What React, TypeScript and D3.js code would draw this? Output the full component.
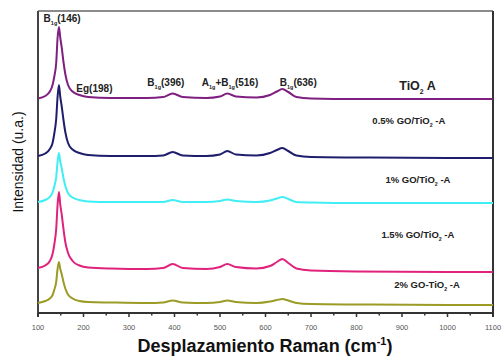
import React, { useRef, useEffect } from 'react';
import * as d3 from 'd3';

// Raman shift (cm-1) sample points shared by all spectra
const shifts = [100, 116, 126, 132, 136, 140, 143, 146, 149, 152, 156, 160, 166, 176, 191, 210, 260, 340, 375, 396, 418, 470, 500, 516, 535, 580, 610, 625, 637, 650, 668, 700, 800, 1000, 1100];

// Intensities (a.u., stacked with offsets as plotted)
const tio2A = [214.5, 217, 221.5, 228, 237, 250, 275, 286, 275, 266, 251, 239, 228, 221.5, 218, 216, 215, 215, 216, 219.5, 216, 215, 216.5, 219.5, 216.5, 215.5, 218, 221.5, 224, 221, 216, 214.5, 214, 214, 214];
const go05 = [157, 159.5, 164, 170, 180, 194, 216, 228, 216, 207, 193, 181, 170, 163.5, 160, 158, 157, 157, 157.5, 161, 157.5, 157, 158.5, 162, 158.5, 157.5, 160, 163, 165, 162, 157.5, 156, 155.5, 155, 155];
const go1 = [111, 113, 116, 120.5, 127, 136, 151, 160, 151, 145, 135, 127, 120, 115.5, 113, 111.5, 111, 111, 111, 113, 111, 111, 112, 113.5, 112, 111, 112.5, 114.5, 116, 114, 111, 110.5, 110, 110, 110];
const go15 = [45, 47.5, 52, 59, 69, 84, 108, 121, 108, 99, 84, 71, 60, 52, 47.5, 45.5, 44.5, 44, 45, 49, 45, 44, 46, 49, 46, 44.5, 47, 51, 54, 50, 44.5, 42.5, 41.5, 41, 41];
const go2 = [10, 12, 14.5, 18, 23.5, 31, 44, 51, 44, 39, 31, 24.5, 18.5, 14.5, 12, 11, 10.5, 10, 10.5, 12.5, 10.5, 10, 11, 12.5, 11, 10, 11.5, 13, 14, 12.5, 10, 9, 8.5, 8, 8];

const seriesNames = ['TiO2 A', '0.5% GO/TiO2 -A', '1% GO/TiO2 -A', '1.5% GO/TiO2 -A', '2% GO-TiO2 -A'];
const seriesValues = [tio2A, go05, go1, go15, go2];
const seriesColors = ['#7f1f80', '#1e1e6c', '#40eef4', '#e0227c', '#9b9b25'];

const xTicks = [100, 200, 300, 400, 500, 600, 700, 800, 900, 1000, 1100];
const xMinorTicks = [150, 250, 350, 450, 550, 650, 750, 850, 950, 1050];

const App = () => {
    const ref = useRef(null);

    useEffect(() => {
        const width = 502;
        const height = 358;
        const margin = { top: 11, right: 9, bottom: 45, left: 38 };
        const font = "'Liberation Sans', Arial, sans-serif";

        const root = d3.select(ref.current);
        root.selectAll('*').remove();
        root.attr('width', width).attr('height', height);

        const x = d3.scaleLinear().domain([100, 1100]).range([margin.left, width - margin.right]);
        const y = d3.scaleLinear().domain([0, 302]).range([height - margin.bottom, margin.top]);

        // frame
        root.append('line')
            .attr('x1', x(100)).attr('x2', x(1100))
            .attr('y1', y(302)).attr('y2', y(302))
            .attr('stroke', '#666').attr('stroke-width', 1.5);
        root.append('line')
            .attr('x1', x(1100)).attr('x2', x(1100))
            .attr('y1', y(302)).attr('y2', y(0) + 4)
            .attr('stroke', '#333').attr('stroke-width', 2);
        root.append('line')
            .attr('x1', x(100)).attr('x2', x(100))
            .attr('y1', y(302)).attr('y2', y(0) + 4)
            .attr('stroke', '#444').attr('stroke-width', 2);

        // x axis
        const axis = root.append('g').attr('transform', `translate(0,${y(0)})`);
        axis.append('line')
            .attr('x1', x(100)).attr('x2', x(1100))
            .attr('stroke', '#333').attr('stroke-width', 2);
        axis.selectAll('line.major').data(xTicks).enter().append('line')
            .attr('class', 'major')
            .attr('x1', d => x(d)).attr('x2', d => x(d))
            .attr('y1', 0).attr('y2', 4)
            .attr('stroke', '#333').attr('stroke-width', 1.5);
        axis.selectAll('line.minor').data(xMinorTicks).enter().append('line')
            .attr('class', 'minor')
            .attr('x1', d => x(d)).attr('x2', d => x(d))
            .attr('y1', 0).attr('y2', 2.5)
            .attr('stroke', '#333').attr('stroke-width', 1.5);
        axis.selectAll('text').data(xTicks).enter().append('text')
            .attr('x', d => x(d)).attr('y', 16.5)
            .attr('text-anchor', 'middle')
            .style('font-family', font).style('font-size', '7.5px')
            .style('fill', '#555')
            .text(d => d);

        // axis titles
        const xt = root.append('text')
            .attr('x', 265).attr('y', 352)
            .attr('text-anchor', 'middle')
            .style('font-family', font).style('font-size', '18px').style('font-weight', 'bold')
            .style('fill', '#111');
        xt.append('tspan').text('Desplazamiento Raman (cm');
        xt.append('tspan').attr('dy', -7).style('font-size', '11px').text('-1');
        xt.append('tspan').attr('dy', 7).text(')');

        root.append('text')
            .attr('transform', 'translate(23,162) rotate(-90)')
            .attr('text-anchor', 'middle')
            .style('font-family', font).style('font-size', '14px')
            .style('fill', '#111')
            .text('Intensidad (u.a.)');

        // spectra
        const line = d3.line()
            .x((d, i) => x(shifts[i]))
            .y(d => y(d))
            .curve(d3.curveMonotoneX);

        seriesValues.forEach((vals, k) => {
            root.append('path')
                .datum(vals)
                .attr('fill', 'none')
                .attr('stroke', seriesColors[k])
                .attr('stroke-width', 2)
                .attr('stroke-linejoin', 'round')
                .attr('d', line);
        });

        // text labels with subscripts: [main, sub, main, sub, ...]
        const label = (parts, cx, cy, size, anchor = 'middle', weight = 'bold') => {
            const t = root.append('text')
                .attr('x', x(cx)).attr('y', y(cy))
                .attr('text-anchor', anchor)
                .style('font-family', font).style('font-size', size + 'px')
                .style('font-weight', weight)
                .style('fill', '#222');
            parts.forEach((p, i) => {
                const sp = t.append('tspan').text(p);
                if (i % 2 === 1) {
                    sp.attr('dy', size * 0.3).style('font-size', (size * 0.55) + 'px');
                } else if (i > 0) {
                    sp.attr('dy', -size * 0.3);
                }
            });
        };

        label(['B', '1g', '(146)'], 153, 291, 10);
        label(['Eg(198)'], 224, 221, 10);
        label(['B', '1g', '(396)'], 381, 227, 10);
        label(['A', '1g', '+B', '1g', '(516)'], 522, 227, 10);
        label(['B', '1g', '(636)'], 672, 227, 10);
        label(['TiO', '2', ' A'], 934, 223, 12.5);
        label(['0.5% GO/TiO', '2', ' -A'], 915, 189, 9.5);
        label(['1% GO/TiO', '2', ' -A'], 935, 130, 9.5);
        label(['1.5% GO/TiO', '2', ' -A'], 935, 75, 9.5);
        label(['2% GO-TiO', '2', ' -A'], 955, 25, 9.5);
    }, []);

    return (
        <svg
            ref={ref}
            style={{ position: 'absolute', left: 0, top: 0, background: '#fff' }}
        />
    );
};

export default App;
